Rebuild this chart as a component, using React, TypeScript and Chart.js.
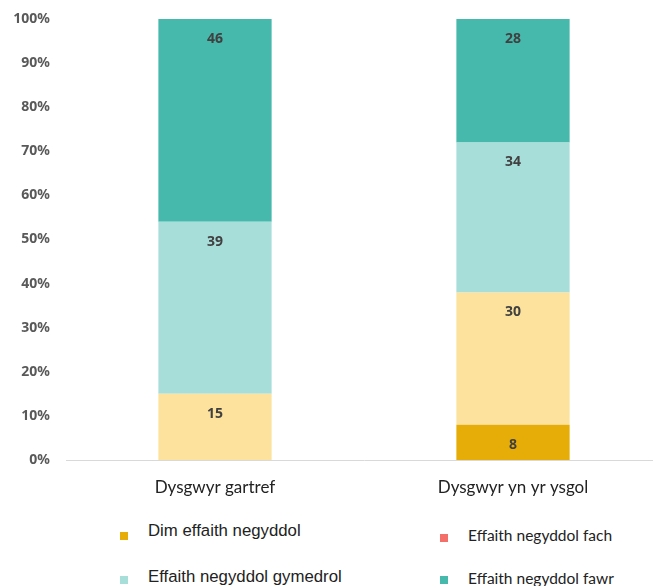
import React, { useEffect, useRef } from "react";
import { Chart, registerables } from "chart.js";

Chart.register(...registerables);

const categories = ["Dysgwyr gartref", "Dysgwyr yn yr ysgol"];
const seriesNames = [
  "Dim effaith negyddol",
  "Effaith negyddol fach",
  "Effaith negyddol gymedrol",
  "Effaith negyddol fawr",
];
const dimValues = [0, 8];
const fachValues = [15, 30];
const gymedrolValues = [39, 34];
const fawrValues = [46, 28];
const barColors = ["#E6AC07", "#FCE29C", "#A8DEDA", "#47B8AC"];
const legendColors = ["#E6AC07", "#F46F6A", "#A8DEDA", "#47B8AC"];
const yTicks = [0, 10, 20, 30, 40, 50, 60, 70, 80, 90, 100];

const valueLabels = {
  id: "valueLabels",
  afterDatasetsDraw(chart: any) {
    const ctx = chart.ctx;
    ctx.save();
    ctx.font = "bold 14px 'Noto Sans', sans-serif";
    ctx.fillStyle = "#404040";
    ctx.textAlign = "center";
    ctx.textBaseline = "middle";
    chart.data.datasets.forEach((ds: any, i: number) => {
      const meta = chart.getDatasetMeta(i);
      meta.data.forEach((el: any, j: number) => {
        const v = ds.data[j];
        if (!v) return;
        ctx.fillText(String(v), el.x, el.y + 20);
      });
    });
    ctx.restore();
  },
};

export default function App() {
  const ref = useRef<HTMLCanvasElement | null>(null);
  useEffect(() => {
    if (!ref.current) return;
    const data = [dimValues, fachValues, gymedrolValues, fawrValues];
    const chart = new Chart(ref.current, {
      type: "bar",
      data: {
        labels: categories,
        datasets: seriesNames.map((n, i) => ({
          label: n,
          data: data[i],
          backgroundColor: barColors[i],
          borderWidth: 0,
          categoryPercentage: 1,
          barPercentage: 0.38,
        })),
      },
      options: {
        animation: false,
        responsive: true,
        maintainAspectRatio: false,
        layout: { padding: { top: 19, right: 0, bottom: 0, left: 0 } },
        plugins: {
          legend: { display: false },
          tooltip: { enabled: false },
        },
        scales: {
          x: {
            stacked: true,
            grid: { display: false, drawTicks: false },
            border: { display: true, color: "#D9D9D9", width: 1 },
            ticks: {
              color: "#222222",
              font: { family: "Lato", size: 17 },
              padding: 17,
            },
            afterFit: (s: any) => {
              s.height = 40;
              s.paddingLeft = 0;
              s.paddingRight = 0;
            },
          },
          y: {
            stacked: true,
            min: 0,
            max: 100,
            afterBuildTicks: (s: any) => {
              s.ticks = yTicks.map((v) => ({ value: v }));
            },
            grid: { display: false, drawTicks: false },
            border: { display: false },
            ticks: {
              color: "#595959",
              font: { family: "'Noto Sans'", size: 14, weight: "bold" },
              padding: 16,
              callback: (v: any) => v + "%",
            },
            afterFit: (s: any) => {
              s.width = 66;
              s.paddingTop = 0;
              s.paddingBottom = 0;
            },
          },
        },
      },
      plugins: [valueLabels],
    });
    return () => chart.destroy();
  }, []);

  const legendPos = [
    { x: 120, y: 522, mTop: 10, font: "'Liberation Sans', Arial, sans-serif", size: 16.8 },
    { x: 440, y: 526, mTop: 6, font: "Lato, sans-serif", size: 15.5 },
    { x: 120, y: 568, mTop: 6, font: "'Liberation Sans', Arial, sans-serif", size: 16.8 },
    { x: 440, y: 569, mTop: 4, font: "Lato, sans-serif", size: 15.5 },
  ];

  return (
    <div
      style={{
        position: "absolute",
        left: 0,
        top: 0,
        width: 653,
        height: 586,
        overflow: "hidden",
        background: "#ffffff",
      }}
    >
      <div style={{ position: "absolute", left: 0, top: 0, width: 662, height: 500 }}>
        <canvas ref={ref} />
      </div>
      {seriesNames.map((n, i) => (
        <div
          key={n}
          style={{
            position: "absolute",
            left: legendPos[i].x,
            top: legendPos[i].y,
            display: "flex",
            alignItems: "center",
            height: 18,
            whiteSpace: "nowrap",
          }}
        >
          <span
            style={{
              display: "inline-block",
              width: 8,
              height: 8,
              background: legendColors[i],
              marginRight: 20,
              marginTop: legendPos[i].mTop,
            }}
          />
          <span
            style={{
              fontFamily: legendPos[i].font,
              fontSize: legendPos[i].size,
              color: "#222222",
              lineHeight: "18px",
            }}
          >
            {n}
          </span>
        </div>
      ))}
    </div>
  );
}
